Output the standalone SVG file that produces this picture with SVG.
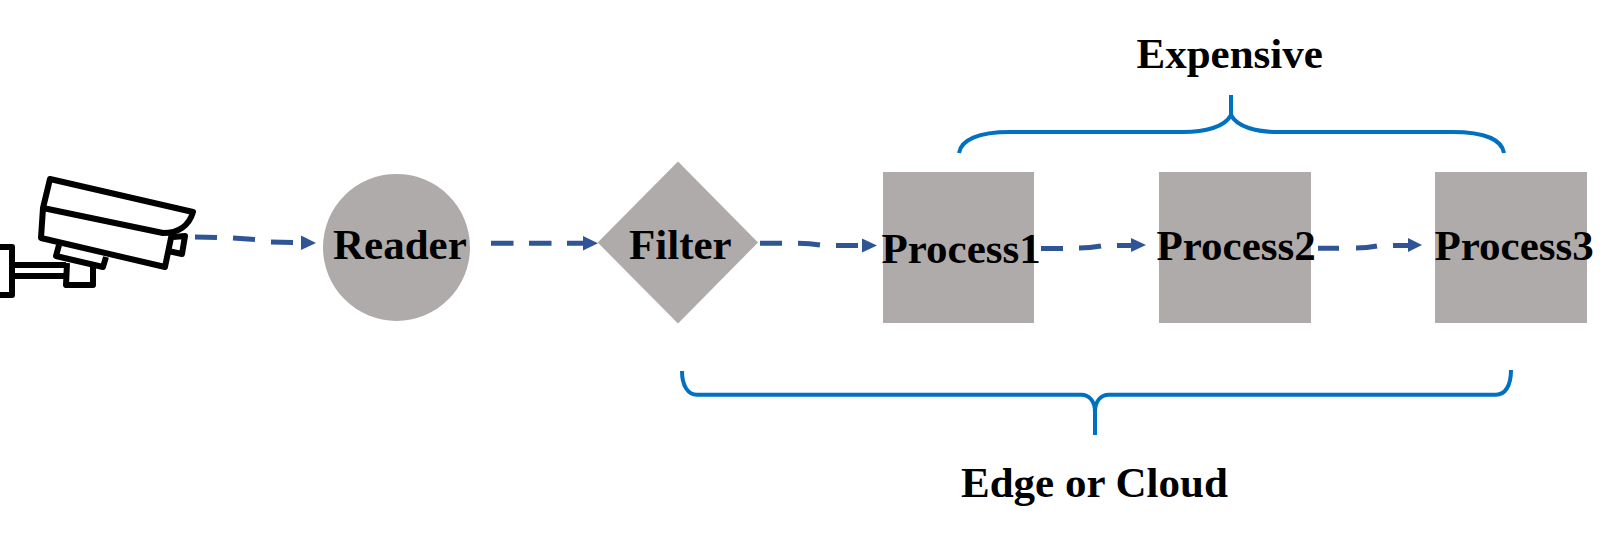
<svg xmlns="http://www.w3.org/2000/svg" width="1611" height="533" viewBox="0 0 1611 533">
<style>
.n{fill:#AFABAB}
.t{font-family:"Liberation Serif","Times New Roman",serif;font-weight:bold;font-size:43px;fill:#000}
.d{fill:none;stroke:#2F5597;stroke-width:5}
.h{fill:#2F5597}
.b{fill:none;stroke:#0070C0;stroke-width:4}
.c{fill:none;stroke:#000;stroke-width:6;stroke-linejoin:round}
</style>
<rect width="1611" height="533" fill="#fff"/>
<g id="camera" class="c">
<path d="M50 179L193 212C189 226 178 233 163 233L43 208Z"/>
<path d="M43 208L41 238L165 267L172 233"/>
<path d="M59 245L56 256L103 267L106 257"/>
<path d="M67 263L66 285H93V267"/>
<path d="M173 237L185 236L182 254L168 251"/>
<path d="M66 265H12M66 276H12"/>
<path d="M0 247H12V295H0"/>
</g>
<g id="reader"><circle class="n" cx="396.500" cy="247.400" r="73.500"/><text class="t" x="333" y="259">Reader</text></g>
<g id="filter"><polygon class="n" points="597.700,242.500 678,161.500 758,242.500 678,323.500"/><text class="t" x="629" y="259">Filter</text></g>
<g id="process1"><rect class="n" x="883" y="172" width="151" height="151"/><text class="t" x="881.500" y="262.500">Process1</text></g>
<g id="process2"><rect class="n" x="1159" y="172" width="152" height="151"/><text class="t" x="1156.500" y="259.500">Process2</text></g>
<g id="process3"><rect class="n" x="1435" y="172" width="152" height="151"/><text class="t" x="1434.500" y="259.500">Process3</text></g>
<g id="connectors">
<path class="d" d="M195 237L217 237.500M233 238L255 239.500M271 242L293 242.500"/><polygon class="h" points="301,235.500 316,243 301,250"/>
<path class="d" d="M491 243.300H513.500M529 243.300H551.500M567 243.300H585"/><polygon class="h" points="583,236 598,243.300 583,250.500"/>
<path class="d" d="M760 243.300H782M798 243.300Q810 243.500 820 245M836 245.500H858"/><polygon class="h" points="862,238.500 877,245.500 862,252.500"/>
<path class="d" d="M1041 248.500H1063M1079 248Q1090 248 1101 246M1117 245.500H1133"/><polygon class="h" points="1131,238 1146,245 1131,252"/>
<path class="d" d="M1318 248.300H1339M1356 248Q1367 248 1377 246M1393 245.500H1410"/><polygon class="h" points="1408,238 1422,245 1408,252"/>
</g>
<g id="brace-top"><path class="b" d="M959 153C961 140 978 132 1010 132H1183C1205 132 1225 127 1231 115V95V115C1237 127 1257 132 1277 132H1452C1485 132 1502 140 1504 153"/><text class="t" x="1136.500" y="68">Expensive</text></g>
<g id="brace-bottom"><path class="b" d="M682 371C682 386 688 394.700 697 394.700H1081C1090 394.700 1095 402 1095 412V435V412C1095 402 1100 394.700 1109 394.700H1496C1505 394.700 1511 386 1511 370"/><text class="t" x="961" y="497">Edge or Cloud</text></g>
</svg>
